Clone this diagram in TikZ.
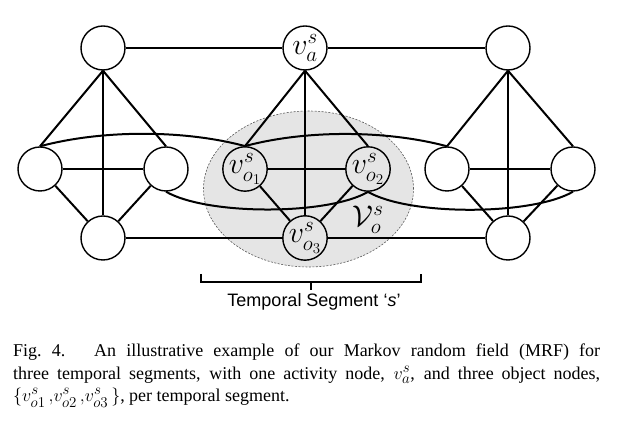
\documentclass[tikz,border=0pt]{standalone}
\usepackage{fix-cm}
\usepackage{amsmath,amssymb}
\usepackage[no-math]{fontspec}
\setmainfont{Liberation Serif}
\newfontfamily\segfont{Liberation Sans}
\DeclareMathSizes{18}{18}{15}{11}
\usepackage{tikz}
\usetikzlibrary{shapes.geometric,positioning}
\tikzset{
  mrfnode/.style={circle,draw,line width=1.4pt,fill=white,minimum size=44pt,
    inner sep=0pt,font=\fontsize{30}{32}\selectfont},
  objnode/.style={mrfnode,fill=none}
}

\begin{document}
\begin{tikzpicture}[x=1pt,y=1pt,
  mrfedge/.style={line width=2pt},
  segarea/.style={ellipse,draw=black!65,dash pattern=on 2pt off 1.5pt,line width=0.6pt,
    fill=black!10,minimum width=210pt,minimum height=156pt}
]
  \path[use as bounding box,fill=white] (0,0) rectangle (619,427);
  \node[segarea] (seg) at (308.5,238) {};
  \node[mrfnode] (lt) at (103,379) {};
  \node[mrfnode] (va) at (305,379) {$v^s_a$};
  \node[mrfnode] (rt) at (508,379) {};
  \node[mrfnode] (l1) at (40,258) {};
  \node[mrfnode] (l2) at (166,258) {};
  \node[mrfnode] (l3) at (103,189) {};
  \node[objnode] (o1) at (245,258) {$v^s_{o_1}$};
  \node[objnode] (o2) at (368,258) {$v^s_{o_2}$};
  \node[objnode] (o3) at (305,189) {$v^s_{o_3}$};
  \node[mrfnode] (r1) at (447,258) {};
  \node[mrfnode] (r2) at (573,258) {};
  \node[mrfnode] (r3) at (508,189) {};
  \draw[mrfedge] (lt) -- (va);
  \draw[mrfedge] (va) -- (rt);
  \draw[mrfedge] (l3) -- (o3);
  \draw[mrfedge] (o3) -- (r3);
  \draw[mrfedge] (lt.south) -- (l1.north);
  \draw[mrfedge] (lt.south) -- (l2.north);
  \draw[mrfedge] (lt) -- (l3);
  \draw[mrfedge] (l1) -- (l2);
  \draw[mrfedge] (l1) -- (l3);
  \draw[mrfedge] (l2) -- (l3);
  \draw[mrfedge] (va.south) -- (o1.north);
  \draw[mrfedge] (va.south) -- (o2.north);
  \draw[mrfedge] (va) -- (o3);
  \draw[mrfedge] (o1) -- (o2);
  \draw[mrfedge] (o1) -- (o3);
  \draw[mrfedge] (o2) -- (o3);
  \draw[mrfedge] (rt.south) -- (r1.north);
  \draw[mrfedge] (rt.south) -- (r2.north);
  \draw[mrfedge] (rt) -- (r3);
  \draw[mrfedge] (r1) -- (r2);
  \draw[mrfedge] (r1) -- (r3);
  \draw[mrfedge] (r2) -- (r3);
  \draw[mrfedge] (l1.north) to[out=15,in=165,looseness=.8] (o1.north);
  \draw[mrfedge] (o1.north) to[out=15,in=165,looseness=.8] (r1.north);
  \draw[mrfedge] (l2.south) to[out=-30,in=210,looseness=.6] (o2.south);
  \draw[mrfedge] (o2.south) to[out=-30,in=210,looseness=.6] (r2.south);
  \node[font=\fontsize{30}{32}\selectfont] (vo) at (368,207) {$\mathcal{V}^s_o$};
  \coordinate (bl) at (201,153);
  \coordinate (br) at (421,153);
  \coordinate (bm) at (311,145);
  \coordinate (tick) at (311,137);
  \draw[mrfedge] (bl) |- (bm) -| (br);
  \draw[mrfedge] (bm) -- (tick);
  \node[below=3pt of tick,xshift=3pt,inner sep=0pt,font=\segfont\fontsize{18}{20}\selectfont] (seglabel) {Temporal Segment ‘\textit{s}’};
  \node[anchor=north west,inner sep=0pt,text width=587pt,align=justify,
    font=\fontsize{18}{22.2}\selectfont] (caption) at (13,83)
    {Fig.~4.\hskip1.6em An illustrative example of our Markov random field (MRF) for\linebreak
     three temporal segments, with one activity node, $v^s_a$, and three object nodes,\linebreak
     $\{v^s_{o1}\,{,}v^s_{o2}\,{,}v^s_{o3}\,\}$, per temporal segment.};
\end{tikzpicture}
\end{document}
